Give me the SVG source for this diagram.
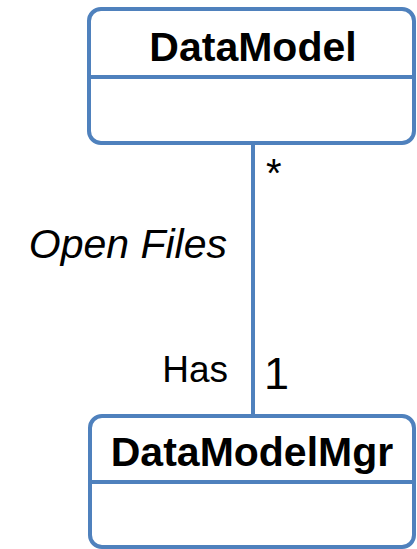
<svg xmlns="http://www.w3.org/2000/svg" width="417" height="549" viewBox="0 0 417 549">
<style>
.box{fill:#fff;stroke:#4f81bd;stroke-width:4}
.div{stroke:#4f81bd;stroke-width:4}
.t{font-family:"Liberation Sans",Arial,sans-serif;fill:#000}
.title{font-weight:bold;font-size:41px;text-anchor:middle}
.conn{stroke:#4f81bd;stroke-width:4;fill:none}
</style>
<rect width="417" height="549" fill="#fff"/>
<g id="connectors">
<line class="conn" x1="253" y1="143" x2="253" y2="416"/>
<text class="t" x="227" y="258" font-size="41" font-style="italic" text-anchor="end">Open Files</text>
<text class="t" x="228" y="382" font-size="37" text-anchor="end">Has</text>
<text class="t" x="264" y="389" font-size="45">1</text>
<text class="t" x="266" y="187" font-size="40">*</text>
</g>
<g id="DataModel">
<rect class="box" x="89" y="9" width="325" height="134" rx="12"/>
<line class="div" x1="89" y1="77" x2="414" y2="77"/>
<text class="t title" x="253" y="61">DataModel</text>
</g>
<g id="DataModelMgr">
<rect class="box" x="90" y="416" width="324" height="131" rx="12"/>
<line class="div" x1="90" y1="482" x2="414" y2="482"/>
<text class="t title" x="252" y="466">DataModelMgr</text>
</g>
</svg>
